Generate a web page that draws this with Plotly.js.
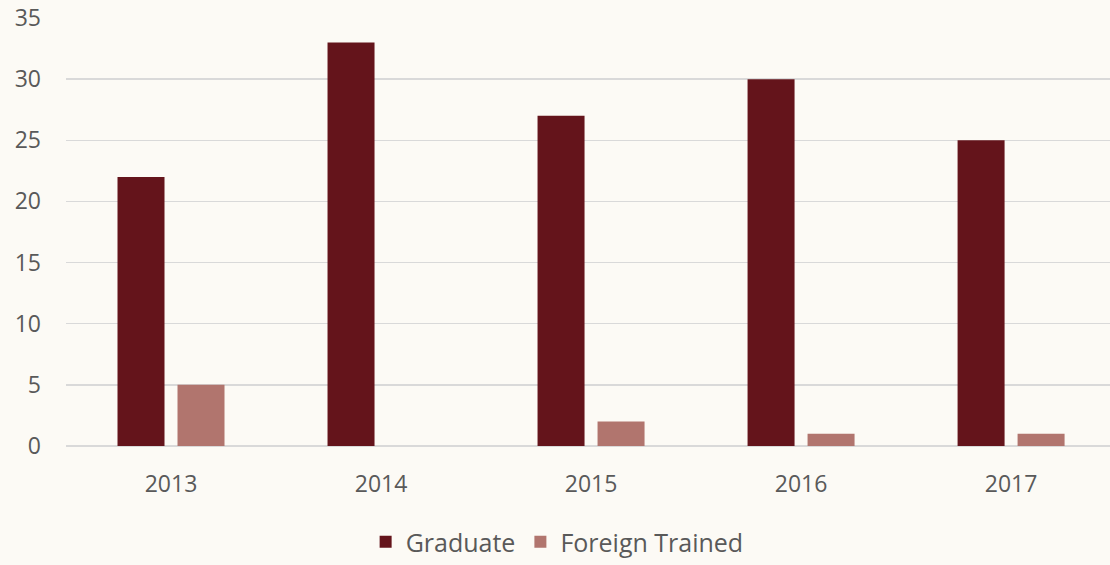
<!DOCTYPE html>
<html>
<head>
<meta charset="utf-8">
<script src="https://cdn.plot.ly/plotly-3.0.1.min.js"></script>
<style>html,body{margin:0;padding:0;background:#fcfaf5;}#chart{width:1110px;height:565px;}</style>
</head>
<body>
<div id="chart"></div>
<script>
var years = ['2013', '2014', '2015', '2016', '2017'];
var graduate = [22, 33, 27, 30, 25];
var foreignTrained = [5, 0, 2, 1, 1];
var yTicks = [0, 5, 10, 15, 20, 25, 30, 35];

var traces = [
  {type: 'bar', name: 'Graduate', x: years, y: graduate, marker: {color: '#64141b'}, hoverinfo: 'x+y'},
  {type: 'bar', name: 'Foreign Trained', x: years, y: foreignTrained, marker: {color: '#b1756e'}, hoverinfo: 'x+y'}
];

var layout = {
  width: 1110, height: 565,
  paper_bgcolor: '#fcfaf5', plot_bgcolor: '#fcfaf5',
  margin: {l: 66, r: 0, t: 18, b: 119},
  barmode: 'group', bargap: 0.4286, bargroupgap: 0.2167,
  font: {family: 'Open Sans, sans-serif', size: 23, color: '#595959'},
  xaxis: {
    type: 'category', range: [-0.5, 4.471], showgrid: false, zeroline: false,
    showline: false, ticks: '', ticklabelstandoff: 22,
    tickfont: {size: 23, color: '#595959'}
  },
  yaxis: {
    range: [0, 35], tickvals: yTicks, ticktext: yTicks.map(String),
    showgrid: true, gridcolor: '#d9d9d9', gridwidth: 1.5,
    zeroline: true, zerolinecolor: '#d9d9d9', zerolinewidth: 1.5,
    showline: false, ticks: '', ticklabelstandoff: 24,
    tickfont: {size: 23, color: '#595959'}
  },
  showlegend: true,
  legend: {
    orientation: 'h', x: 0.287, xanchor: 'left', yref: 'container', y: -0.009, yanchor: 'bottom',
    font: {size: 25, color: '#595959'}, bgcolor: 'rgba(0,0,0,0)', itemwidth: 30
  }
};

Plotly.newPlot('chart', traces, layout, {displayModeBar: false, staticPlot: true});
</script>
</body>
</html>
